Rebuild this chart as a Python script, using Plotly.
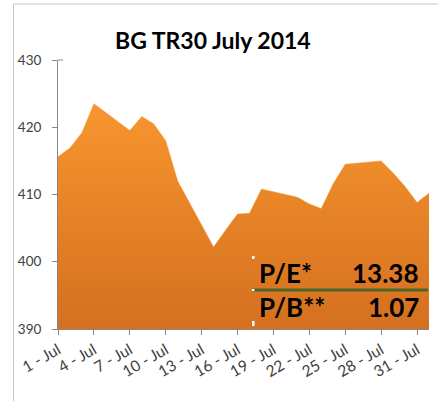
import plotly.graph_objects as go

# ---- data ----
dates = ["2014-07-01", "2014-07-02", "2014-07-03", "2014-07-04",
         "2014-07-07", "2014-07-08", "2014-07-09", "2014-07-10", "2014-07-11",
         "2014-07-14", "2014-07-15", "2014-07-16", "2014-07-17", "2014-07-18",
         "2014-07-21", "2014-07-22", "2014-07-23", "2014-07-24", "2014-07-25",
         "2014-07-28", "2014-07-29", "2014-07-30", "2014-07-31", "2014-08-01"]
values = [415.6, 416.9, 419.2, 423.5,
          419.5, 421.6, 420.5, 418.0, 412.0,
          402.2, 404.7, 407.1, 407.2, 410.8,
          409.6, 408.6, 407.9, 411.6, 414.5,
          415.0, 413.2, 411.2, 408.8, 410.2]
tick_dates = ["2014-07-01", "2014-07-04", "2014-07-07", "2014-07-10", "2014-07-13",
              "2014-07-16", "2014-07-19", "2014-07-22", "2014-07-25", "2014-07-28",
              "2014-07-31"]
tick_labels = ["1 - Jul", "4 - Jul", "7 - Jul", "10 - Jul", "13 - Jul", "16 - Jul",
               "19 - Jul", "22 - Jul", "25 - Jul", "28 - Jul", "31 - Jul"]
y_ticks = [390, 400, 410, 420, 430]
title_text = "BG TR30 July 2014"
pe_label, pe_value = "P/E*", "13.38"
pb_label, pb_value = "P/B**", "1.07"

W, H = 438, 401
L, R, T, B = 58, 9, 60, 72
PW, PH = W - L - R, H - T - B


def px(x):
    return (x - L) / PW


def py(y):
    return (H - B - y) / PH


fig = go.Figure()
fig.add_trace(go.Scatter(
    x=dates, y=values, mode="lines", fill="tozeroy",
    line=dict(color="#F8952E", width=0.5),
    fillgradient=dict(type="vertical", colorscale=[[0, "#D4701F"], [1, "#F8962F"]],
                      start=390, stop=424),
    hoverinfo="skip", showlegend=False,
))

grey = "#868686"
fig.update_layout(
    width=W, height=H,
    margin=dict(l=L, r=R, t=T, b=B, autoexpand=False),
    paper_bgcolor="white", plot_bgcolor="white",
    font=dict(family="Lato", color="#404040", size=13),
    xaxis=dict(type="date", range=["2014-07-01", "2014-08-01"], automargin=False,
               tickvals=tick_dates, ticktext=tick_labels, tickangle=-30,
               showgrid=False, zeroline=False, showline=True, linecolor=grey, linewidth=1,
               ticks="outside", ticklen=5, tickcolor=grey,
               tickfont=dict(family="Lato", size=15.5, color="#404040")),
    yaxis=dict(range=[390, 430], tickvals=y_ticks, showgrid=False, zeroline=False,
               showline=True, linecolor=grey, linewidth=1, automargin=False,
               ticks="outside", ticklen=5, tickcolor=grey, ticklabelstandoff=8,
               tickfont=dict(family="Lato", size=13.5, color="#404040")),
)

shapes = [
    # chart border
    dict(type="rect", xref="paper", yref="paper", x0=px(13.5), x1=px(470), y0=py(4), y1=py(450),
         line=dict(color="#BCC8D8", width=1), fillcolor="rgba(0,0,0,0)", layer="below"),
    # separator line in table
    dict(type="line", xref="paper", yref="paper", x0=px(253), x1=px(428), y0=py(290), y1=py(290),
         line=dict(color="#4F6228", width=3)),
    # small tick stub above axis top (tick crosses axis)
    dict(type="line", xref="paper", yref="paper", x0=px(58), x1=px(63), y0=py(60), y1=py(60),
         line=dict(color=grey, width=1)),
]
for (y0, y1) in [(256, 259), (289, 291), (321, 326)]:
    shapes.append(dict(type="rect", xref="paper", yref="paper", x0=px(252), x1=px(254.5),
                       y0=py(y1), y1=py(y0), line=dict(width=0), fillcolor="white"))
fig.update_layout(shapes=shapes)

big = dict(family="Lato", size=26, color="black", weight="bold")
anns = [
    dict(text=title_text, x=px(213), y=py(40), xref="paper", yref="paper",
         xanchor="center", yanchor="middle", showarrow=False,
         font=dict(family="Lato", size=23, color="black", weight="bold")),
    dict(text=pe_label, x=px(257), y=py(273), xanchor="left", yanchor="middle"),
    dict(text=pe_value, x=px(421), y=py(273), xanchor="right", yanchor="middle"),
    dict(text=pb_label, x=px(257), y=py(307), xanchor="left", yanchor="middle"),
    dict(text=pb_value, x=px(421), y=py(307), xanchor="right", yanchor="middle"),
]
for a in anns[1:]:
    a.update(xref="paper", yref="paper", showarrow=False, font=big)
fig.update_layout(annotations=anns)

fig.write_html("out.html", config={"displayModeBar": False},
               post_script="document.body.style.margin='0';")
